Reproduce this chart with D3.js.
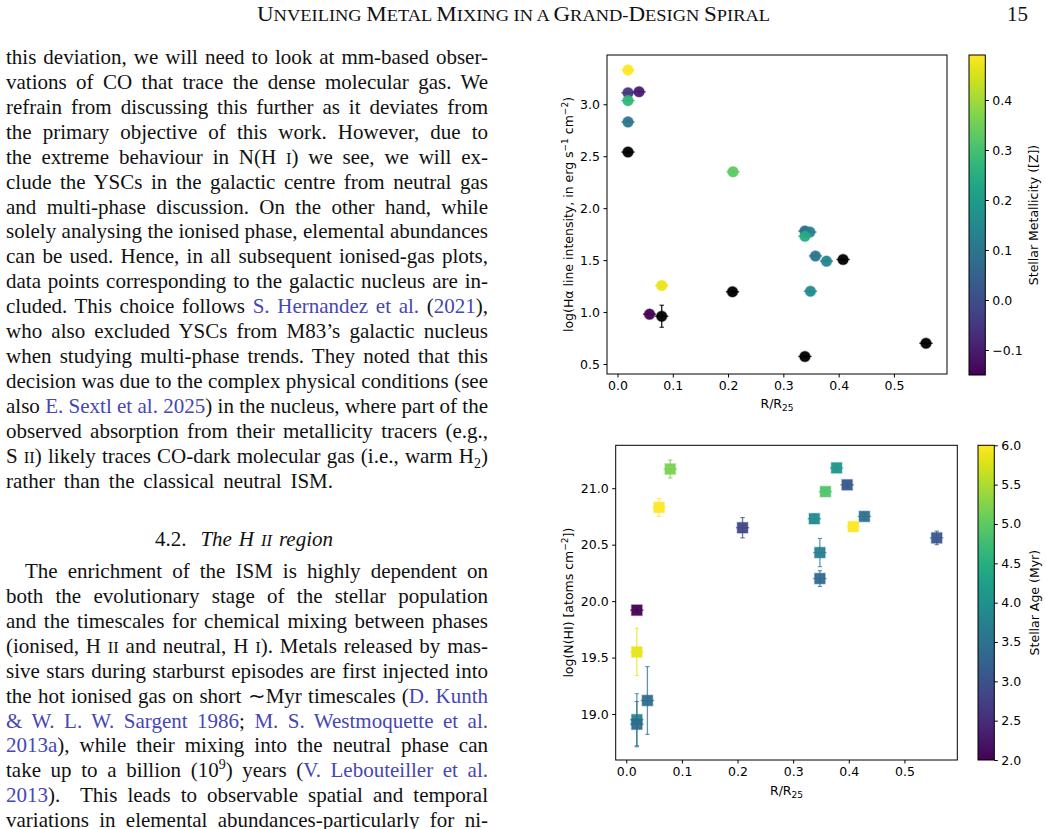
<!DOCTYPE html>
<html><head><meta charset="utf-8">
<script src="https://cdn.jsdelivr.net/npm/d3@7"></script>
<style>
html,body{margin:0;padding:0;background:#fff;}
svg{display:block;}
.bt{font-family:"Liberation Serif","Times New Roman",serif;font-size:21px;fill:#111;white-space:pre;}
.ax text{font-family:"DejaVu Sans",sans-serif;font-size:12.5px;fill:#000;}
.ax line{stroke:#000;}
.lab{font-family:"DejaVu Sans",sans-serif;font-size:12.5px;fill:#000;}
</style></head><body>
<svg id="page" width="1046" height="829"></svg>
<script>
// ---------- DATA: top panel (Halpha intensity vs radius, coloured by stellar metallicity) ----------
const rTop   = [0.019,0.019,0.039,0.019,0.019,0.019,0.209,0.339,0.348,0.339,0.358,0.378,0.408,0.080,0.208,0.349,0.058,0.080,0.339,0.558];
const logHa  = [3.33,3.11,3.12,3.035,2.83,2.54,2.35,1.78,1.77,1.73,1.54,1.49,1.506,1.256,1.195,1.20,0.98,0.96,0.573,0.70];
const haErr  = [0.01,0.01,0.01,0.01,0.01,0.01,0.01,0.01,0.01,0.01,0.01,0.01,0.01,0.01,0.01,0.01,0.01,0.106,0.01,0.01];
const metal  = [0.49,-0.05,-0.10,0.27,0.10,null,0.33,0.065,0.12,0.24,0.10,0.14,null,0.47,null,0.155,-0.15,null,null,null];
const topXTicks = [0.0,0.1,0.2,0.3,0.4,0.5];
const topYTicks = [0.5,1.0,1.5,2.0,2.5,3.0];
const metalTicks = [-0.1,0.0,0.1,0.2,0.3,0.4];

// ---------- DATA: bottom panel (N(HI) vs radius, coloured by stellar age) ----------
const rBot    = [0.079,0.059,0.209,0.019,0.019,0.019,0.019,0.038,0.378,0.397,0.358,0.338,0.428,0.408,0.558,0.348,0.348];
const logNHI  = [21.17,20.83,20.65,19.92,19.55,18.95,18.91,19.12,21.18,21.03,20.97,20.73,20.75,20.66,20.56,20.43,20.20];
const nhiErr  = [0.08,0.08,0.09,0.02,0.21,0.23,0.20,0.30,0.02,0.02,0.02,0.04,0.03,0.02,0.06,0.125,0.07];
const age     = [5.2,6.0,2.8,2.0,5.85,3.8,3.4,3.4,4.1,3.1,4.9,3.9,3.5,6.0,3.1,3.7,3.4];
const botXTicks = [0.0,0.1,0.2,0.3,0.4,0.5];
const botYTicks = [19.0,19.5,20.0,20.5,21.0];
const ageTicks = [2.0,2.5,3.0,3.5,4.0,4.5,5.0,5.5,6.0];
const xErrSmall = 0.012;

const svg = d3.select('#page');
svg.append('rect').attr('width',1046).attr('height',829).attr('fill','#fff');

// ---------- page text ----------
const LINK = '#4646b4';
function renderLine(line){
  const t = svg.append('text').attr('class','bt').attr('x',line.x).attr('y',line.y);
  let cur = 0;
  line.segs.forEach(([s,type])=>{
    const ts = t.append('tspan').text(s);
    let shift = 0;
    if(type==='l') ts.attr('fill',LINK);
    if(type==='sc') ts.attr('font-size',16.5);
    if(type==='it') ts.attr('font-style','italic');
    if(type==='itsc') ts.attr('font-style','italic').attr('font-size',16.5);
    if(type==='sub'){shift=5; ts.attr('font-size',14);}
    if(type==='sup'){shift=-8; ts.attr('font-size',14);}
    const dy = shift-cur;
    if(dy) ts.attr('dy',dy);
    cur = shift;
  });
  const nat = t.node().getComputedTextLength();
  const full = line.segs.map(s=>s[0]).join('');
  const sp = (full.match(/ /g)||[]).length;
  if(line.w){
    if(nat < line.w && sp>0) t.attr('word-spacing',(line.w-nat)/sp);
    else t.attr('textLength',line.w).attr('lengthAdjust','spacingAndGlyphs');
  }
}
const N = s=>[[s,'n']];
const p1 = [
  N('this deviation, we will need to look at mm-based obser-'),
  N('vations of CO that trace the dense molecular gas. We'),
  N('refrain from discussing this further as it deviates from'),
  N('the primary objective of this work. However, due to'),
  [['the extreme behaviour in N(H ','n'],['I','sc'],[') we see, we will ex-','n']],
  N('clude the YSCs in the galactic centre from neutral gas'),
  N('and multi-phase discussion. On the other hand, while'),
  N('solely analysing the ionised phase, elemental abundances'),
  N('can be used. Hence, in all subsequent ionised-gas plots,'),
  N('data points corresponding to the galactic nucleus are in-'),
  [['cluded. This choice follows ','n'],['S. Hernandez et al.','l'],[' (','n'],['2021','l'],['),','n']],
  N('who also excluded YSCs from M83\u2019s galactic nucleus'),
  N('when studying multi-phase trends. They noted that this'),
  N('decision was due to the complex physical conditions (see'),
  [['also ','n'],['E. Sextl et al. 2025','l'],[') in the nucleus, where part of the','n']],
  N('observed absorption from their metallicity tracers (e.g.,'),
  [['S ','n'],['II','sc'],[') likely traces CO-dark molecular gas (i.e., warm H','n'],['2','sub'],[')','n']],
  N('rather than the classical neutral ISM.')
];
p1.forEach((segs,i)=>renderLine({x:6,y:63.8+24.95*i,w:(i===17?327:482),segs}));
renderLine({x:155,y:545.5,w:178,segs:[['4.2.  ','n'],['The H ','it'],['II','itsc'],[' region','it']]});
const p2 = [
  N('The enrichment of the ISM is highly dependent on'),
  N('both the evolutionary stage of the stellar population'),
  N('and the timescales for chemical mixing between phases'),
  [['(ionised, H ','n'],['II','sc'],[' and neutral, H ','n'],['I','sc'],['). Metals released by mas-','n']],
  N('sive stars during starburst episodes are first injected into'),
  [['the hot ionised gas on short \u223CMyr timescales (','n'],['D. Kunth','l']],
  [['& W. L. W. Sargent 1986','l'],['; ','n'],['M. S. Westmoquette et al.','l']],
  [['2013a','l'],['), while their mixing into the neutral phase can','n']],
  [['take up to a billion (10','n'],['9','sup'],[') years (','n'],['V. Lebouteiller et al.','l']],
  [['2013','l'],[').  This leads to observable spatial and temporal','n']],
  N('variations in elemental abundances-particularly for ni-')
];
p2.forEach((segs,i)=>renderLine({x:i===0?25:6,y:577.8+24.95*i,w:(i===0?463:482),segs}));

// running header (small caps)
(function(){
  const t = svg.append('text').attr('class','bt').attr('x',257).attr('y',20.5);
  const title = 'Unveiling Metal Mixing in a Grand-Design Spiral';
  for(const ch of title){
    const big = ch!==ch.toLowerCase();
    t.append('tspan').attr('font-size',big?20:16).text(ch.toUpperCase());
  }
  t.attr('textLength',513).attr('lengthAdjust','spacingAndGlyphs');
  svg.append('text').attr('class','bt').attr('x',1028).attr('y',20.5).attr('text-anchor','end').attr('font-size',20).text('15');
})();

// ---------- charts ----------
const viridis = d3.interpolateViridis;
function panel(cfg){
  const g = svg.append('g');
  const x = d3.scaleLinear().domain(cfg.xd).range(cfg.xr);
  const y = d3.scaleLinear().domain(cfg.yd).range(cfg.yr);
  const gx = g.append('g').attr('class','ax').attr('transform',`translate(0,${cfg.yr[0]})`)
    .call(d3.axisBottom(x).tickValues(cfg.xt).tickFormat(d3.format('.1f')).tickSize(3.5).tickPadding(3.5));
  gx.select('.domain').remove();
  const gy = g.append('g').attr('class','ax').attr('transform',`translate(${cfg.xr[0]},0)`)
    .call(d3.axisLeft(y).tickValues(cfg.yt).tickFormat(d3.format('.1f')).tickSize(3.5).tickPadding(3.5));
  gy.select('.domain').remove();
  // points
  const pts = cfg.xs.map((xv,i)=>({x:xv,y:cfg.ys[i],e:cfg.es[i],c:cfg.col(cfg.cs[i])}));
  pts.forEach(p=>{
    const px = x(p.x), py = y(p.y);
    const pg = g.append('g');
    // x error (tiny)
    pg.append('line').attr('x1',x(p.x-xErrSmall)).attr('x2',x(p.x+xErrSmall)).attr('y1',py).attr('y2',py)
      .attr('stroke',p.c).attr('stroke-width',1.3).attr('stroke-opacity',cfg.eo);
    // y error with caps
    const y1 = y(p.y-p.e), y2 = y(p.y+p.e);
    pg.append('line').attr('x1',px).attr('x2',px).attr('y1',y1).attr('y2',y2)
      .attr('stroke',p.c).attr('stroke-width',1.3).attr('stroke-opacity',cfg.eo);
    [y1,y2].forEach(yy=>pg.append('line').attr('x1',px-2.2).attr('x2',px+2.2).attr('y1',yy).attr('y2',yy)
      .attr('stroke',p.c).attr('stroke-width',1.1).attr('stroke-opacity',cfg.eo));
    if(cfg.shape==='circle'){
      pg.append('circle').attr('cx',px).attr('cy',py).attr('r',5.3)
        .attr('fill',p.c).attr('fill-opacity',0.95).attr('stroke',p.c).attr('stroke-opacity',0.35).attr('stroke-width',1.4);
    } else {
      pg.append('rect').attr('x',px-5.3).attr('y',py-5.3).attr('width',10.6).attr('height',10.6)
        .attr('fill',p.c).attr('fill-opacity',0.95).attr('stroke',p.c).attr('stroke-opacity',0.35).attr('stroke-width',1.4);
    }
  });
  // frame
  g.append('rect').attr('x',cfg.xr[0]).attr('y',cfg.yr[1]).attr('width',cfg.xr[1]-cfg.xr[0]).attr('height',cfg.yr[0]-cfg.yr[1])
    .attr('fill','none').attr('stroke','#000').attr('stroke-width',1);
  // x label R/R25
  const xl = g.append('text').attr('class','lab').attr('x',(cfg.xr[0]+cfg.xr[1])/2).attr('y',cfg.xlY).attr('text-anchor','middle');
  xl.append('tspan').text('R/R');
  xl.append('tspan').attr('font-size',9).attr('dy',3).text('25');
  // y label
  const yl = g.append('text').attr('class','lab').attr('text-anchor','middle')
    .attr('transform',`translate(${cfg.ylX},${(cfg.yr[0]+cfg.yr[1])/2}) rotate(-90)`);
  cfg.ylab.forEach(([s,t])=>{
    const ts = yl.append('tspan').text(s);
    if(t==='sup') ts.attr('font-size',9).attr('dy',-5);
    if(t==='back') ts.attr('dy',5);
  });
  // colorbar
  const cb = cfg.cb;
  const cy = d3.scaleLinear().domain(cb.d).range([cfg.yr[0]+cb.pad0, cfg.yr[1]]);
  const gid = 'grad'+cfg.id;
  const grad = svg.append('defs').append('linearGradient').attr('id',gid).attr('x1',0).attr('y1',1).attr('x2',0).attr('y2',0);
  d3.range(0,1.0001,0.05).forEach(t=>grad.append('stop').attr('offset',t).attr('stop-color',viridis(t)));
  g.append('rect').attr('x',cb.x0).attr('y',cfg.yr[1]).attr('width',cb.x1-cb.x0).attr('height',cy.range()[0]-cfg.yr[1])
    .attr('fill',`url(#${gid})`).attr('stroke','#000').attr('stroke-width',1);
  const gc = g.append('g').attr('class','ax').attr('transform',`translate(${cb.x1},0)`)
    .call(d3.axisRight(cy).tickValues(cb.t).tickFormat(d3.format('.1f')).tickSize(3.5).tickPadding(3.5));
  gc.select('.domain').remove();
  g.append('text').attr('class','lab').attr('text-anchor','middle')
    .attr('transform',`translate(${cb.lx},${(cy.range()[0]+cfg.yr[1])/2}) rotate(-90)`).text(cb.label);
}

panel({
  id:'top', xd:[-0.019,0.596], xr:[607,947], yd:[0.404,3.474], yr:[374,55],
  xt:topXTicks, yt:topYTicks, xs:rTop, ys:logHa, es:haErr, cs:metal, shape:'circle', eo:0.9,
  col:v=> v==null ? '#000' : viridis((v+0.15)/0.64),
  xlY:408, ylX:573,
  ylab:[['log(H\u03B1 line intensity, in erg s','n'],['\u22121','sup'],[' cm','back'],['\u22122','sup'],[')','back']],
  cb:{x0:969,x1:985.3,d:[-0.15,0.49],t:metalTicks,label:'Stellar Metallicity ([Z])',lx:1037.5,pad0:1}
});
panel({
  id:'bot', xd:[-0.019,0.595], xr:[615.7,957.3], yd:[18.593,21.38], yr:[760,445.3],
  xt:botXTicks, yt:botYTicks, xs:rBot, ys:logNHI, es:nhiErr, cs:age, shape:'square', eo:0.75,
  col:v=> viridis((v-2)/4),
  xlY:795, ylX:573,
  ylab:[['log(N(HI) [atoms cm','n'],['\u22122','sup'],['])','back']],
  cb:{x0:978,x1:994.3,d:[2,6],t:ageTicks,label:'Stellar Age (Myr)',lx:1038.5,pad0:0}
});
</script></body></html>
